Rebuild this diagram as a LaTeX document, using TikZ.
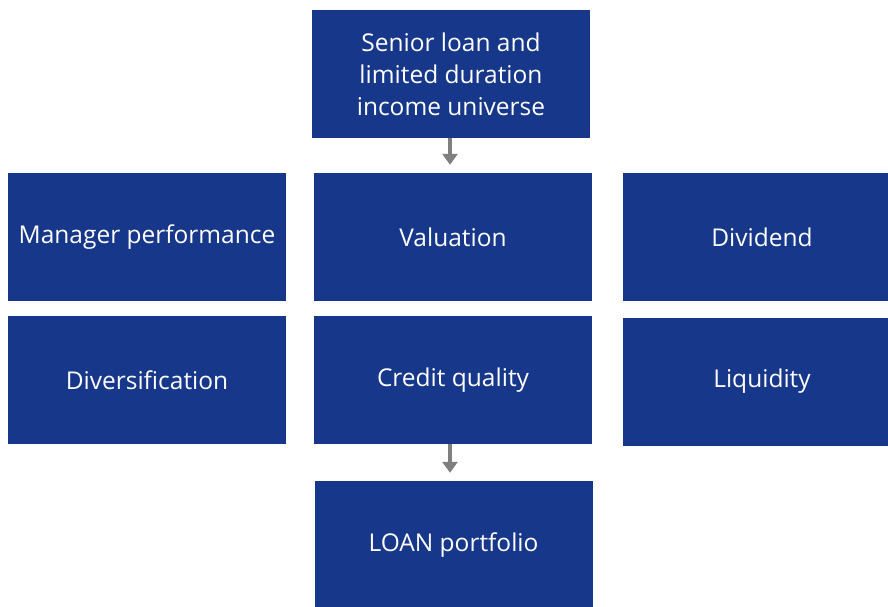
\documentclass[tikz,border=0pt]{standalone}
\usepackage{fontspec}
\setmainfont{Open Sans}
\usepackage{tikz}
\usetikzlibrary{arrows.meta}
\definecolor{loanblue}{HTML}{17378A}
\definecolor{arrowgray}{HTML}{7F7F7F}

\begin{document}
\begin{tikzpicture}[x=1pt, y=-1pt,
  box/.style={fill=loanblue, text=white, minimum width=278pt, minimum height=128pt,
    inner sep=0pt, align=center, font=\fontsize{24.5}{32}\selectfont},
  flow/.style={draw=arrowgray, line width=3.5pt, -{Stealth[length=11pt, width=15pt, inset=0pt]}, shorten >=8pt}]
\clip (0,0) rectangle (888,607);
\node[box] (universe) at (451,74) {Senior loan and\\limited duration\\income universe};
\node[box] (manager) at (147,237) {Manager performance};
\node[box] (valuation) at (453,237) {Valuation};
\node[box] (dividend) at (762,237) {Dividend};
\node[box] (diversification) at (147,380) {Diversification};
\node[box] (credit) at (453,380) {Credit quality};
\node[box] (liquidity) at (762,381.5) {Liquidity};
\node[box] (loan) at (453.5,545) {LOAN portfolio};
\draw[flow] (universe.south -| 450,0) -- (valuation.north -| 450,0);
\draw[flow] (credit.south -| 450,0) -- (loan.north -| 450,0);
\end{tikzpicture}
\end{document}
